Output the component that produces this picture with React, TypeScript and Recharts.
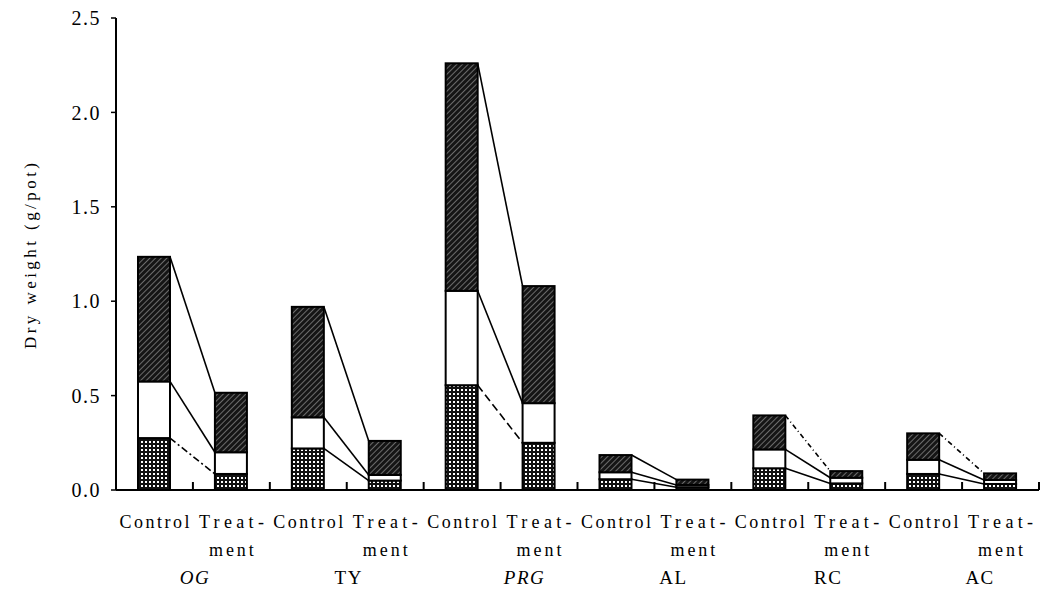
import { BarChart, Bar, XAxis, YAxis } from "recharts";

const barLabels = ["Control", "Treat-", "Control", "Treat-", "Control", "Treat-", "Control", "Treat-", "Control", "Treat-", "Control", "Treat-"];
const groups = ["OG", "TY", "PRG", "AL", "RC", "AC"];
const italicGroups = [true, false, true, false, false, false];

// dry weight (g/pot) per part, control/treatment pairs
const bottomPart = [0.275, 0.085, 0.22, 0.05, 0.555, 0.25, 0.057, 0.015, 0.115, 0.035, 0.085, 0.032];
const middlePart = [0.3, 0.115, 0.165, 0.03, 0.5, 0.21, 0.037, 0.012, 0.1, 0.03, 0.075, 0.021];
const topPart = [0.66, 0.315, 0.585, 0.18, 1.205, 0.62, 0.091, 0.028, 0.18, 0.035, 0.14, 0.035];

const yTicks = [0, 0.5, 1.0, 1.5, 2.0, 2.5];

// dash style of the connecting lines, one per group
const topDash = ["", "", "", "", "5 3 1 3", "5 3 1 3"];
const middleDash = ["", "", "", "", "", ""];
const bottomDash = ["7 3 2 3", "", "8 4", "", "", ""];

// the species names sit a little right of the pair centre in the original
const groupNudge = [2, 2, 24, 19, 20, 18];

const data = barLabels.map((label, i) => ({
  label,
  group: groups[Math.floor(i / 2)],
  bottom: bottomPart[i],
  middle: middlePart[i],
  top: topPart[i],
}));

const serif = "Liberation Serif, Times New Roman, DejaVu Serif, serif";

// control bar corners, filled while drawing so treatment bars can link back
const ends: Record<string, { x: number; y: number }> = {};

function makeShape(key: string, fill: string, dashes: string[]) {
  return (props: any) => {
    const { x, y, width, height, index } = props;
    let link = null;
    if (index % 2 === 0) {
      ends[key + index] = { x: x + width, y };
    } else {
      const c = ends[key + (index - 1)];
      if (c) {
        const d = dashes[(index - 1) / 2];
        link = (
          <line x1={c.x} y1={c.y} x2={x} y2={y} stroke="#000" strokeWidth={1.6}
            strokeDasharray={d || undefined} />
        );
      }
    }
    return (
      <g>
        <rect x={x} y={y} width={width} height={height} fill={fill} stroke="#000" strokeWidth={2} />
        {link}
      </g>
    );
  };
}

function CategoryTick(props: any) {
  const { x, y, payload, index, width, visibleTicksCount } = props;
  const half = payload && payload.offset ? payload.offset : width / visibleTicksCount / 2;
  const isCtrl = index % 2 === 0;
  const g = Math.floor(index / 2);
  return (
    <g style={{ fontFamily: serif }} fill="#000">
      <line x1={x + half} x2={x + half} y1={y} y2={y - 8} stroke="#000" strokeWidth={2} />
      <text x={x} y={y + 38} textAnchor="middle" fontSize={18} style={{ fontFamily: serif }}
        textLength={isCtrl ? 70 : 65} lengthAdjust="spacing">
        {barLabels[index]}
      </text>
      {!isCtrl && (
        <text x={x} y={y + 66} textAnchor="middle" fontSize={18} style={{ fontFamily: serif }}
          textLength={45} lengthAdjust="spacing">
          ment
        </text>
      )}
      {!isCtrl && (
        <text x={x - half + groupNudge[g]} y={y + 94} textAnchor="middle" fontSize={19}
          style={{ fontFamily: serif, fontStyle: italicGroups[g] ? "italic" : "normal" }} letterSpacing={1.5}>
          {groups[g]}
        </text>
      )}
    </g>
  );
}

function YTitle() {
  return (
    <text x={30} y={256} transform="rotate(-90 30 256)" textAnchor="middle" dominantBaseline="central"
      style={{ fontFamily: serif }} fontSize={17} fill="#000" textLength={186} lengthAdjust="spacing">
      Dry weight (g/pot)
    </text>
  );
}

export default function App() {
  return (
    <div style={{ position: "absolute", left: 0, top: 0, background: "#fff" }}>
      <BarChart width={1045} height={593} data={data} barSize={32}
        margin={{ top: 18, right: 6, bottom: 3, left: 2 }}>
        <defs>
          <pattern id="grid" width={4} height={4} patternUnits="userSpaceOnUse">
            <rect width={4} height={4} fill="#111" />
            <rect x={1} y={1} width={2} height={2} fill="#fff" />
          </pattern>
          <pattern id="hatch" width={4} height={4} patternUnits="userSpaceOnUse" patternTransform="rotate(45)">
            <rect width={4} height={4} fill="#151515" />
            <line x1={0} y1={0} x2={0} y2={4} stroke="#9a9a9a" strokeWidth={1.3} />
          </pattern>
        </defs>
        <XAxis dataKey="label" interval={0} height={100} tickLine={false} tickSize={0} tickMargin={0}
          axisLine={{ stroke: "#000", strokeWidth: 2 }} tick={<CategoryTick />} />
        <YAxis domain={[0, 2.5]} ticks={yTicks} width={114} interval={0}
          tickFormatter={(v: number) => v.toFixed(1)}
          axisLine={{ stroke: "#000", strokeWidth: 2 }} tickLine={{ stroke: "#000", strokeWidth: 1.5 }}
          tickSize={5} tickMargin={10}
          tick={{ fill: "#000", fontSize: 20, style: { fontFamily: serif }, letterSpacing: 1.5 }}
          label={<YTitle />} />
        <Bar dataKey="bottom" stackId="a" isAnimationActive={false} shape={makeShape("b", "url(#grid)", bottomDash)} />
        <Bar dataKey="middle" stackId="a" isAnimationActive={false} shape={makeShape("m", "#fff", middleDash)} />
        <Bar dataKey="top" stackId="a" isAnimationActive={false} shape={makeShape("t", "url(#hatch)", topDash)} />
      </BarChart>
    </div>
  );
}
